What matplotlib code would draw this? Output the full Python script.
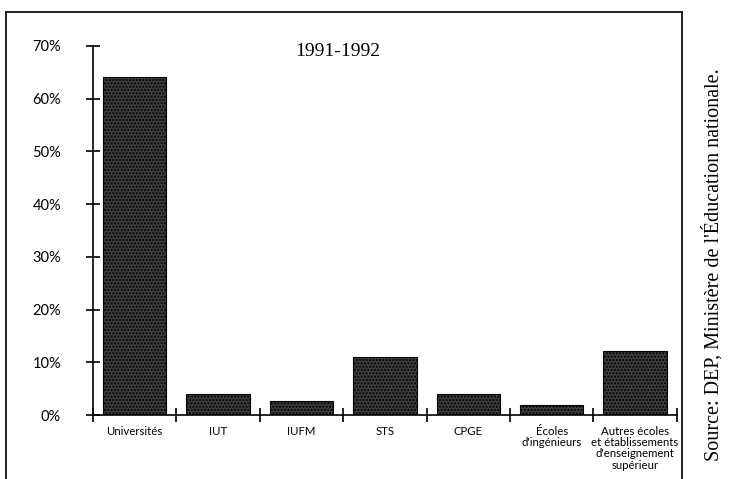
import matplotlib
matplotlib.use("Agg")
import matplotlib.pyplot as plt
from matplotlib.lines import Line2D

# ---------- DATA ----------
categories = ["Universités", "IUT", "IUFM", "STS", "CPGE",
              "Écoles\nd'ingénieurs",
              "Autres écoles\net établissements\nd'enseignement\nsupérieur"]
shares = [64.1, 4.0, 2.7, 11.0, 4.0, 1.9, 12.1]
yticks = [0, 10, 20, 30, 40, 50, 60, 70]

plt.rcParams['font.family'] = ['Liberation Serif', 'DejaVu Serif']
plt.rcParams['hatch.color'] = '#8a8a8a'
sans = ['Lato', 'DejaVu Sans']

fig = plt.figure(figsize=(7.38, 4.79), dpi=100)
ax = fig.add_axes([0.126, 0.1336, 0.791, 0.7704])

x = list(range(len(categories)))
ax.bar(x, shares, width=0.76, color='#3d3d3d', edgecolor='black',
       linewidth=0.8, hatch='.....')

ax.set_xlim(-0.5, len(categories) - 0.5)
ax.set_ylim(0, 70)

ax.set_yticks(yticks)
ax.set_yticklabels([f"{v}%" for v in yticks], fontsize=10.5, family=sans)
ax.tick_params(axis='y', direction='inout', length=10, width=1.2, pad=18)

# category boundaries as ticks on x axis
ax.set_xticks([i - 0.5 for i in range(len(categories) + 1)])
ax.set_xticklabels([])
ax.tick_params(axis='x', direction='inout', length=10, width=1.2)
for i, c in enumerate(categories):
    ax.text(i, -2.0, c, ha='center', va='top', fontsize=8.2,
            linespacing=1.05, family=sans)

for s in ['top', 'right']:
    ax.spines[s].set_visible(False)
ax.spines['left'].set_linewidth(1.2)
ax.spines['bottom'].set_linewidth(1.2)

ax.text(0.42, 0.985, "1991-1992", transform=ax.transAxes, ha='center',
        va='center', fontsize=14)

# outer frame
fw, fh = 738, 479
fig.add_artist(Line2D([6 / fw, 682 / fw], [1 - 12 / fh, 1 - 12 / fh], color='black', lw=1.2))
fig.add_artist(Line2D([6 / fw, 6 / fw], [0, 1 - 12 / fh], color='black', lw=1.2))
fig.add_artist(Line2D([682 / fw, 682 / fw], [0, 1 - 12 / fh], color='black', lw=1.2))

fig.text(713 / fw, 1 - 265 / fh, "Source: DEP, Ministère de l'Éducation nationale.",
         rotation=90, ha='center', va='center', fontsize=14.5)

fig.savefig("out.png", dpi=100)
